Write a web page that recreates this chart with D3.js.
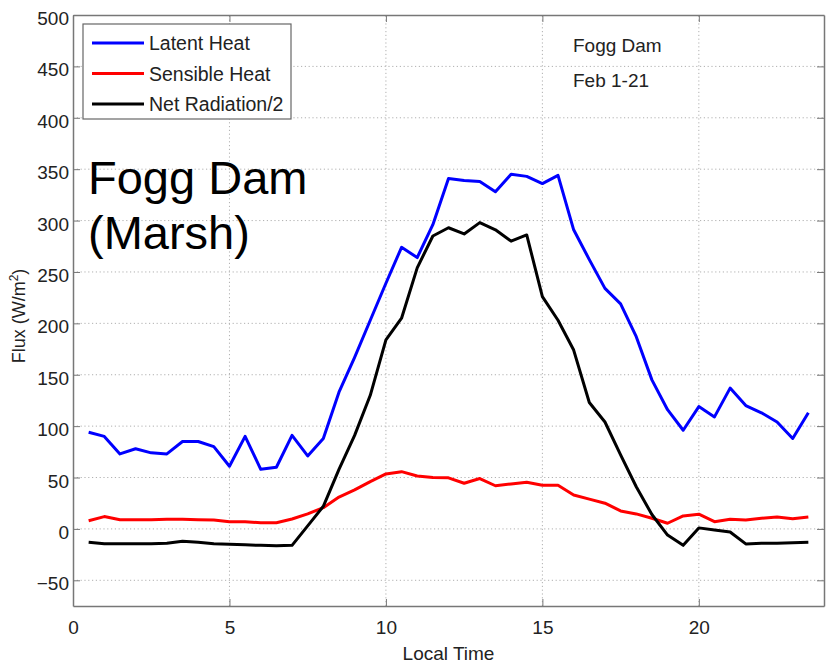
<!DOCTYPE html>
<html>
<head>
<meta charset="utf-8">
<script src="https://cdn.jsdelivr.net/npm/d3@7"></script>
<style>
  body { margin: 0; background: #fff; }
  svg { font-family: "Liberation Sans", Arial, sans-serif; }
</style>
</head>
<body>
<div id="chart"></div>
<script>
// half-hourly local time
const hours = [0.5,1,1.5,2,2.5,3,3.5,4,4.5,5,5.5,6,6.5,7,7.5,8,8.5,9,9.5,10,10.5,11,11.5,12,
  12.5,13,13.5,14,14.5,15,15.5,16,16.5,17,17.5,18,18.5,19,19.5,20,20.5,21,21.5,22,22.5,23,23.5];

const latentHeat = [94,90,73,78,74,73,85,85,80,61,90,58,60,91,71,88,133,167,203,239,274,264,296,341,
  339,338,328,345,343,336,344,291,262,234,219,187,145,116,96,119,109,137,120,113,104,88,113];

const sensibleHeat = [8,12,9,9,9,9.5,9.5,9,8.6,7,7,6,6,9.6,14.6,20.7,31,38,46,53.5,55.7,51.5,50,49.7,
  44.4,49,42,43.8,45.4,42.5,42.5,33,29,25,17.5,14.6,10.4,5.5,12.6,14.3,7,9.4,8.7,10.4,11.7,10,11.7];

const netRadHalf = [-13,-14.5,-14.5,-14.5,-14.5,-14,-12,-13,-14.5,-15,-15.5,-16,-16.5,-16,3,22,58,91,130,184,
  205,254,285,293,287,298,291,280,286,226,203,174,123,104,72,41,14,-6,-16,1,-1,-3,-14.6,-14,-14,-13.5,-13];

const seriesNames = ["Latent Heat", "Sensible Heat", "Net Radiation/2"];
const seriesColors = ["#0000ff", "#ff0000", "#000000"];
const xTicks = [0, 5, 10, 15, 20];
const yTicks = [-50, 0, 50, 100, 150, 200, 250, 300, 350, 400, 450, 500];

const width = 827, height = 663;
const margin = {top: 15, right: 3, bottom: 57, left: 73};

const svg = d3.select("#chart").append("svg")
  .attr("width", width)
  .attr("height", height);

const x = d3.scaleLinear().domain([0, 24]).range([margin.left, width - margin.right]);
const y = d3.scaleLinear().domain([-75, 500]).range([height - margin.bottom, margin.top]);

// grid lines
const grid = svg.append("g").attr("stroke", "#b0b0b0").attr("stroke-dasharray", "1.2,2.6").attr("stroke-width", 1);
xTicks.filter(d => d > 0).forEach(d => {
  grid.append("line").attr("x1", x(d)).attr("x2", x(d)).attr("y1", y(-75)).attr("y2", y(500));
});
yTicks.filter(d => d < 500).forEach(d => {
  grid.append("line").attr("x1", x(0)).attr("x2", x(24)).attr("y1", y(d)).attr("y2", y(d));
});

// axes (ticks pointing inward like matlab)
const xAxis = d3.axisBottom(x).tickValues(xTicks).tickSizeInner(-7).tickSizeOuter(0).tickPadding(15);
const yAxis = d3.axisLeft(y).tickValues(yTicks).tickSizeInner(-7).tickSizeOuter(0).tickPadding(4);

const gx = svg.append("g").attr("transform", "translate(0," + y(-75) + ")").call(xAxis);
const gy = svg.append("g").attr("transform", "translate(" + x(0) + ",0)").call(yAxis);
svg.append("g").attr("transform", "translate(0," + y(500) + ")")
  .call(d3.axisTop(x).tickValues(xTicks).tickSizeInner(-7).tickSizeOuter(0).tickFormat(""));
svg.append("g").attr("transform", "translate(" + x(24) + ",0)")
  .call(d3.axisRight(y).tickValues(yTicks).tickSizeInner(-7).tickSizeOuter(0).tickFormat(""));

svg.selectAll(".domain").attr("stroke", "#777").attr("stroke-width", 1.5);
svg.selectAll(".tick line").attr("stroke", "#777");
[gx, gy].forEach(g => g.selectAll("text").attr("font-size", 19).attr("fill", "#222")
  .attr("font-family", "'Liberation Sans', Arial, sans-serif"));
gy.selectAll("text").attr("dy", "0.5em");

// lines
const allSeries = [latentHeat, sensibleHeat, netRadHalf];
const line = d3.line().x((d, i) => x(hours[i])).y(d => y(d));
allSeries.forEach((s, k) => {
  svg.append("path").datum(s)
    .attr("fill", "none")
    .attr("stroke", seriesColors[k])
    .attr("stroke-width", 3)
    .attr("stroke-linejoin", "round")
    .attr("d", line);
});

// legend
const legend = svg.append("g");
legend.append("rect").attr("x", 83).attr("y", 24).attr("width", 208).attr("height", 95)
  .attr("fill", "#fff").attr("stroke", "#666").attr("stroke-width", 1.2);
seriesNames.forEach((name, k) => {
  const ly = 43 + k * 30.5;
  legend.append("line").attr("x1", 92).attr("x2", 144).attr("y1", ly).attr("y2", ly)
    .attr("stroke", seriesColors[k]).attr("stroke-width", 3);
  legend.append("text").attr("x", 149).attr("y", ly + 7).attr("font-size", 19.5).attr("fill", "#222").text(name);
});

// annotations
svg.append("text").attr("x", 573).attr("y", 52).attr("font-size", 19).attr("fill", "#222").text("Fogg Dam");
svg.append("text").attr("x", 573).attr("y", 87).attr("font-size", 19).attr("fill", "#222").text("Feb 1-21");

svg.append("text").attr("x", 88).attr("y", 194).attr("font-size", 47).attr("fill", "#000").text("Fogg Dam");
svg.append("text").attr("x", 88).attr("y", 249).attr("font-size", 47).attr("fill", "#000").text("(Marsh)");

// axis titles
svg.append("text").attr("x", x(12)).attr("y", 660).attr("text-anchor", "middle")
  .attr("font-size", 19).attr("fill", "#222").text("Local Time");

const yl = svg.append("text").attr("transform", "translate(25," + 316 + ") rotate(-90)")
  .attr("text-anchor", "middle").attr("font-size", 18).attr("fill", "#222");
yl.append("tspan").text("Flux (W/m");
yl.append("tspan").attr("font-size", 12).attr("dy", -7).text("2");
yl.append("tspan").attr("dy", 7).text(")");
</script>
</body>
</html>
